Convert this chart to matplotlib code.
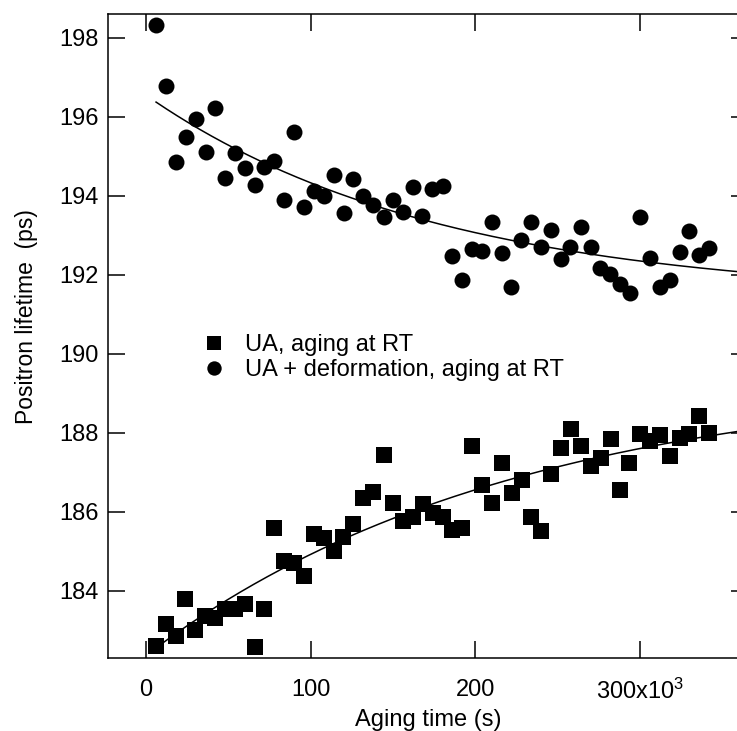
import numpy as np
import matplotlib
matplotlib.use("Agg")
import matplotlib.pyplot as plt

plt.rcParams['font.family'] = ['Liberation Sans', 'DejaVu Sans']
plt.rcParams['mathtext.fontset'] = 'custom'
plt.rcParams['mathtext.rm'] = 'Liberation Sans'
plt.rcParams['mathtext.it'] = 'Liberation Sans'

# ---- data (x in units of 10^3 s) ----
t_def = [6.25, 12.3, 18.4, 24.5, 30.3, 36.4, 42.2, 48.3, 54.2, 60.1, 66.1, 72.0,
         78.0, 84.1, 90.2, 96.1, 101.9, 108.0, 114.1, 120.1, 126.0, 132.0, 138.1,
         144.2, 150.1, 155.9, 162.0, 167.8, 173.9, 180.0, 186.0, 191.9, 197.6,
         203.9, 210.0, 216.0, 221.8, 227.7, 233.8, 239.7, 245.8, 251.8, 257.6,
         263.7, 269.8, 275.7, 281.7, 287.8, 293.7, 299.8, 305.6, 311.7, 317.7,
         323.8, 329.7, 335.7, 341.6]
tau_def = [198.32, 196.78, 194.85, 195.49, 195.94, 195.10, 196.23, 194.46, 195.07,
           194.71, 194.27, 194.73, 194.87, 193.89, 195.61, 193.72, 194.12, 194.00,
           194.53, 193.57, 194.42, 194.00, 193.76, 193.45, 193.89, 193.58, 194.23,
           193.49, 194.16, 194.25, 192.47, 191.87, 192.65, 192.61, 193.34, 192.56,
           191.70, 192.88, 193.34, 192.71, 193.13, 192.39, 192.71, 193.20, 192.71,
           192.16, 192.02, 191.76, 191.53, 193.45, 192.43, 191.70, 191.87, 192.58,
           193.11, 192.50, 192.67]

t_ua = [6.25, 12.3, 18.4, 24.0, 29.9, 36.2, 42.2, 48.3, 54.4, 60.4, 66.1, 72.0,
        78.0, 84.1, 90.0, 96.1, 101.9, 108.0, 113.9, 119.9, 126.0, 132.0, 138.1,
        144.2, 150.2, 155.9, 162.0, 168.1, 174.2, 180.2, 186.0, 192.1, 197.8,
        203.9, 210.0, 216.0, 222.1, 228.2, 233.8, 239.9, 245.8, 251.8, 257.9,
        263.7, 270.0, 276.1, 282.2, 287.4, 293.4, 299.5, 305.6, 311.7, 317.7,
        323.8, 329.5, 335.6, 341.4]
tau_ua = [182.61, 183.17, 182.86, 183.79, 183.02, 183.36, 183.32, 183.53, 183.54,
          183.66, 182.57, 183.53, 185.60, 184.76, 184.71, 184.37, 185.44, 185.34,
          185.01, 185.35, 185.69, 186.36, 186.51, 187.44, 186.23, 185.77, 185.87,
          186.19, 185.97, 185.86, 185.54, 185.58, 187.66, 186.68, 186.23, 187.23,
          186.47, 186.80, 185.86, 185.51, 186.95, 187.61, 188.09, 187.66, 187.16,
          187.35, 187.83, 186.55, 187.24, 187.97, 187.80, 187.94, 187.41, 187.86,
          187.97, 188.42, 188.00]

xtick_vals = [0, 100, 200, 300]
xtick_labels = ['0', '100', '200', '300x10$^{3}$']
ytick_vals = [184, 186, 188, 190, 192, 194, 196, 198]

labels = ['UA, aging at RT', 'UA + deformation, aging at RT']

TAU_GRID = np.linspace(20, 2000, 1981)


def _lsq(x, y, tc):
    x = np.asarray(x); y = np.asarray(y)
    A = np.column_stack([np.ones_like(x), np.exp(-x / tc)])
    coef = np.linalg.lstsq(A, y, rcond=None)[0]
    return coef, np.sum((A @ coef - y) ** 2)


def best_tau(series):
    """Time constant minimising the summed residual of all given series."""
    res = [sum(_lsq(x, y, tc)[1] for x, y in series) for tc in TAU_GRID]
    return TAU_GRID[int(np.argmin(res))]


def exp_curve(x, y, tc):
    c = _lsq(x, y, tc)[0]
    return lambda xx: c[0] + c[1] * np.exp(-xx / tc)


fig = plt.figure(figsize=(7.37, 7.31), dpi=100)
ax = fig.add_axes([0.147, 0.0994, 0.8684, 0.8814])

ms = 11.5
ax.plot(t_ua, tau_ua, 's', color='black', ms=ms, mew=0, label=labels[0])
ax.plot(t_def, tau_def, 'o', color='black', ms=ms, mew=0, label=labels[1])

xx = np.linspace(min(t_def), 370, 400)
tau_shared = best_tau([(t_ua, tau_ua), (t_def, tau_def)])
f_ua = exp_curve(t_ua, tau_ua, best_tau([(t_ua, tau_ua)]))
f_def = exp_curve(t_def, tau_def, tau_shared)
ax.plot(xx, f_def(xx), '-', color='black', lw=1.1)
ax.plot(xx, f_ua(xx), '-', color='black', lw=1.1)

ax.set_xlim(-22.7, 365.5)
ax.set_ylim(182.29, 198.6)
ax.set_xticks(xtick_vals)
ax.set_xticklabels(xtick_labels)
ax.set_yticks(ytick_vals)

for s in ax.spines.values():
    s.set_linewidth(1.1)
ax.tick_params(axis='both', direction='in', length=12, width=1.1,
               top=True, right=True, labelsize=17)
ax.tick_params(axis='x', pad=15)
ax.tick_params(axis='y', pad=7)

ax.set_xlabel('Aging time (s)', fontsize=17, labelpad=3)
ax.set_ylabel('Positron lifetime  (ps)', fontsize=16.5)
ax.yaxis.set_label_coords(-0.110, 0.531)

ax.legend(loc='upper left', bbox_to_anchor=(0.132, 0.518), frameon=False,
          fontsize=17, markerscale=0.9, handlelength=1.0, handletextpad=0.8,
          labelspacing=0.12, borderaxespad=0)

fig.savefig('out.png', dpi=100)
